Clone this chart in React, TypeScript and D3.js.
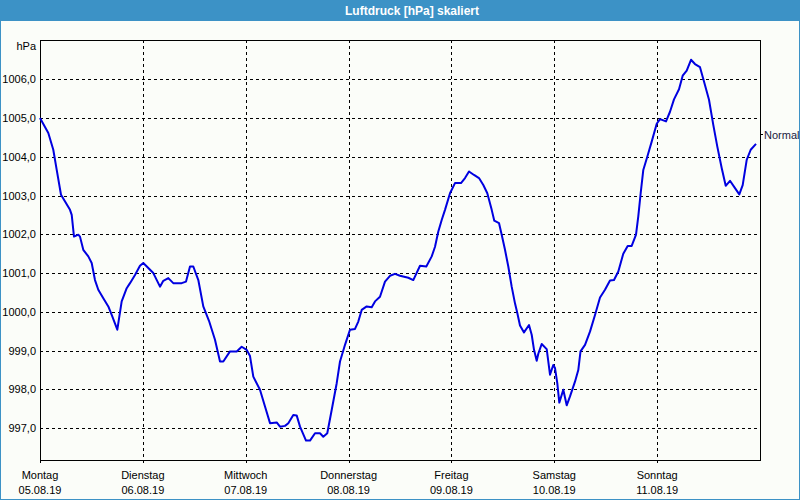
import React from "react";
import * as d3 from "d3";

// ---- data ----
const title = "Luftdruck [hPa] skaliert";
const unitLabel = "hPa";
const dayNames = ["Montag", "Dienstag", "Mittwoch", "Donnerstag", "Freitag", "Samstag", "Sonntag"];
const dayDates = ["05.08.19", "06.08.19", "07.08.19", "08.08.19", "09.08.19", "10.08.19", "11.08.19"];
const yTicks = [997, 998, 999, 1000, 1001, 1002, 1003, 1004, 1005, 1006];
const normalValue = 1004.58;
const normalLabel = "Normal";

// hours since Mon 05.08.19 00:00
const hours = [
  0, 1.94, 3.1, 3.9, 4.9, 7.0, 7.4, 7.93, 8.94, 9.33, 10.1, 11.27, 12.06, 12.83, 13.6, 14.77, 15.94, 16.73, 18.04,
  19.06, 20.23, 21.0, 22.17, 23.33, 24.1, 25.27, 26.44, 28.0, 28.77, 29.94, 31.1, 33.06, 34.07, 35.0, 35.77, 36.94,
  38.1, 39.43, 40.83, 42.0, 42.77, 44.33, 45.9, 47.06, 48.23, 49.0, 49.77, 51.33, 52.5, 53.67, 55.23, 56.0, 57.17,
  57.94, 59.1, 59.89, 60.67, 62.07, 63.0, 64.17, 65.33, 66.1, 67.03, 68.06, 69.23, 70.0, 71.17, 72.33, 73.5, 74.27,
  75.06, 76.23, 77.4, 78.17, 79.33, 80.5, 81.67, 82.83, 84.0, 85.94, 87.1, 88.67, 90.14, 91.4, 92.17, 92.94, 93.73,
  94.5, 95.67, 96.83, 98.23, 99.17, 100.1, 101.27, 102.43, 103.44, 104.37, 105.4, 106.0, 107.1, 107.73, 108.5,
  109.27, 110.06, 110.83, 111.37, 112.0, 112.93, 114.1, 114.73, 115.27, 115.9, 116.27, 117.06, 118.23, 119.0,
  119.77, 120.17, 120.7, 121.17, 122.1, 122.9, 123.67, 124.83, 125.6, 126.12, 127.17, 128.33, 129.5, 130.67,
  131.83, 133.0, 133.93, 134.94, 136.1, 137.13, 138.06, 139.07, 139.6, 140.16, 140.77, 141.7, 142.73, 143.9,
  144.67, 146.07, 147.0, 147.93, 149.1, 149.96, 150.9, 151.9, 152.83, 154.0, 154.93, 156.1, 157.1, 158.04, 159.06,
  160.0, 161.0, 162.17, 163.17, 163.96, 164.9, 165.83, 167.07,
];
const pressure = [
  1005.0, 1004.61, 1004.18, 1003.66, 1003.02, 1002.63, 1002.5, 1001.94, 1001.99, 1001.94, 1001.6, 1001.43, 1001.26,
  1000.82, 1000.57, 1000.35, 1000.14, 999.92, 999.54, 1000.27, 1000.61, 1000.74, 1000.95, 1001.19, 1001.26, 1001.13,
  1001.0, 1000.65, 1000.8, 1000.87, 1000.74, 1000.74, 1000.78, 1001.17, 1001.17, 1000.82, 1000.14, 999.77, 999.28,
  998.72, 998.72, 998.98, 998.98, 999.1, 999.02, 998.86, 998.33, 997.99, 997.56, 997.13, 997.15, 997.04, 997.06,
  997.13, 997.34, 997.33, 997.04, 996.68, 996.68, 996.87, 996.87, 996.78, 996.87, 997.47, 998.16, 998.72, 999.15,
  999.54, 999.56, 999.75, 1000.05, 1000.14, 1000.12, 1000.27, 1000.39, 1000.78, 1000.93, 1000.98, 1000.93, 1000.88,
  1000.82, 1001.19, 1001.17, 1001.43, 1001.68, 1002.07, 1002.37, 1002.63, 1003.06, 1003.32, 1003.32, 1003.45,
  1003.62, 1003.53, 1003.45, 1003.27, 1003.06, 1002.63, 1002.35, 1002.29, 1001.99, 1001.6, 1001.17, 1000.65,
  1000.22, 999.97, 999.65, 999.47, 999.66, 999.41, 999.02, 998.74, 998.92, 999.17, 999.04, 998.38, 998.63, 998.55,
  998.16, 997.66, 997.99, 997.59, 997.82, 998.2, 998.5, 998.98, 999.15, 999.49, 999.92, 1000.37, 1000.57, 1000.81,
  1000.82, 1001.04, 1001.5, 1001.7, 1001.7, 1001.99, 1002.46, 1003.06, 1003.66, 1004.0, 1004.39, 1004.85, 1004.97,
  1004.91, 1005.16, 1005.48, 1005.74, 1006.09, 1006.22, 1006.5, 1006.39, 1006.31, 1005.94, 1005.47, 1004.82,
  1004.26, 1003.71, 1003.25, 1003.38, 1003.19, 1003.03, 1003.27, 1003.92, 1004.18, 1004.33,
];

const W = 800;
const H = 500;
const plot = { left: 40, right: 760, top: 40, bottom: 460 };
const font = "'Liberation Sans', Arial, sans-serif";

export default function App() {
  const x = d3.scaleLinear().domain([0, 168]).range([plot.left, plot.right]);
  const y = d3.scaleLinear().domain([996.18, 1007.01]).range([plot.bottom, plot.top]);
  const pts = hours.map((h, i) => [h, pressure[i]] as [number, number]);
  const line = d3
    .line<[number, number]>()
    .x((d) => x(d[0]))
    .y((d) => y(d[1]));
  const dayHours = dayNames.map((_, i) => i * 24);
  const snap = (v: number) => Math.round(v) + 0.5;

  return (
    <svg width={W} height={H} style={{ display: "block", position: "absolute", left: 0, top: 0 }}>
      <rect x={0} y={0} width={W} height={H} fill="#fbfdf9" />
      <rect x={0.5} y={0.5} width={W - 1} height={H - 1} fill="none" stroke="#3c92c6" />
      <rect x={0} y={0} width={W} height={21} fill="#3c92c6" />
      <text x={345} y={15} fill="#ffffff" fontFamily={font} fontWeight="bold" fontSize={12}>
        {title}
      </text>

      {/* horizontal grid */}
      {yTicks.map((t) => (
        <g key={t}>
          <line
            x1={plot.left}
            x2={plot.right}
            y1={snap(y(t))}
            y2={snap(y(t))}
            stroke="#000"
            strokeDasharray="3,3"
            shapeRendering="crispEdges"
          />
          <text x={36} y={y(t) + 4} textAnchor="end" fontFamily={font} fontSize={11} fill="#000">
            {t.toFixed(1).replace(".", ",")}
          </text>
        </g>
      ))}

      {/* vertical grid + x labels */}
      {dayHours.map((h, i) => (
        <g key={h}>
          {i > 0 && (
            <line
              x1={snap(x(h))}
              x2={snap(x(h))}
              y1={plot.top}
              y2={plot.bottom}
              stroke="#000"
              strokeDasharray="3,3"
              shapeRendering="crispEdges"
            />
          )}
          <line
            x1={snap(x(h))}
            x2={snap(x(h))}
            y1={plot.bottom}
            y2={plot.bottom + 3}
            stroke="#000"
            shapeRendering="crispEdges"
          />
          <text x={x(h)} y={479} textAnchor="middle" fontFamily={font} fontSize={11} fill="#000">
            {dayNames[i]}
          </text>
          <text x={x(h)} y={494} textAnchor="middle" fontFamily={font} fontSize={11} fill="#000">
            {dayDates[i]}
          </text>
        </g>
      ))}

      {/* frame */}
      <rect
        x={plot.left + 0.5}
        y={plot.top + 0.5}
        width={plot.right - plot.left}
        height={plot.bottom - plot.top}
        fill="none"
        stroke="#000"
        shapeRendering="crispEdges"
      />

      <text x={36} y={50} textAnchor="end" fontFamily={font} fontSize={11} fill="#000">
        {unitLabel}
      </text>

      {/* normal marker */}
      <line
        x1={plot.right}
        x2={plot.right + 3}
        y1={snap(y(normalValue))}
        y2={snap(y(normalValue))}
        stroke="#000"
        shapeRendering="crispEdges"
      />
      <text x={764} y={y(normalValue) + 5} fontFamily={font} fontSize={11} fill="#1a1a40">
        {normalLabel}
      </text>

      <path d={line(pts) ?? ""} fill="none" stroke="#0000e0" strokeWidth={2} strokeLinejoin="round" />
    </svg>
  );
}
